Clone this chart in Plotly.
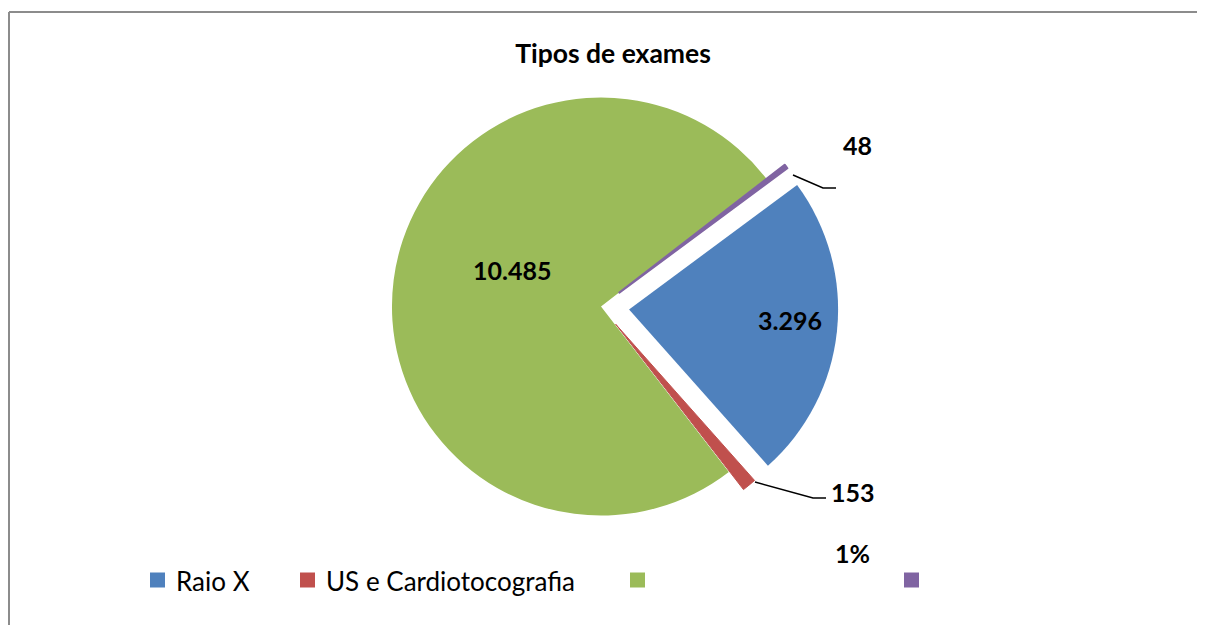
import plotly.graph_objects as go

# ---- data ----
legend_names = ["Raio X", "US e Cardiotocografia", "", ""]
values = [3296, 153, 10485, 48]
colors = ["#4F81BD", "#C0504D", "#9BBB59", "#8064A2"]
title_text = "Tipos de exames"

# page body has an 8px margin, so the figure is shifted by (8, 8)
OFF = 8
W, H = 1205 - OFF, 625 - OFF


def X(px):
    return (px - OFF) / W


def Y(py):
    return 1 - (py - OFF) / H


def fmt(v):
    return f"{v:,}".replace(",", ".")


total = sum(values)
pct_red = f"{round(values[1] / total * 100)}%"

fig = go.Figure()
fig.add_trace(go.Pie(
    values=values,
    marker=dict(colors=colors, line=dict(color=colors, width=[0, 1, 0, 2])),
    sort=False,
    direction="clockwise",
    rotation=53.5,
    pull=[0.135, 0.11, 0, 0.11],
    textinfo="none",
    hoverinfo="value+percent",
    domain=dict(x=[X(351), X(851)], y=[Y(543.75), Y(69.25)]),
    showlegend=False,
))

lab_font = dict(family="Lato", size=25, color="#000000")
annotations = [
    dict(x=X(512), y=Y(270), text=f"<b>{fmt(values[2])}</b>"),
    dict(x=X(790), y=Y(320), text=f"<b>{fmt(values[0])}</b>"),
    dict(x=X(857), y=Y(145), text=f"<b>{fmt(values[3])}</b>"),
    dict(x=X(853), y=Y(492), text=f"<b>{fmt(values[1])}</b>"),
    dict(x=X(852), y=Y(553), text=f"<b>{pct_red}</b>"),
]
for a in annotations:
    a.update(xref="paper", yref="paper", showarrow=False, font=lab_font,
             xanchor="center", yanchor="middle")

shapes = []
# leader lines
for pts in ([(793, 175), (823, 188), (836, 188)],
            [(755, 482), (813, 498), (826, 498)]):
    path = "M " + " L ".join(f"{X(a)},{Y(b)}" for a, b in pts)
    shapes.append(dict(type="path", xref="paper", yref="paper", path=path,
                       line=dict(color="#000000", width=1.5)))

# chart border (top and left visible)
shapes.append(dict(type="line", xref="paper", yref="paper",
                   x0=X(9), y0=Y(12), x1=1, y1=Y(12),
                   line=dict(color="#8C8C8C", width=2)))
shapes.append(dict(type="line", xref="paper", yref="paper",
                   x0=X(9), y0=Y(12), x1=X(9), y1=0,
                   line=dict(color="#8C8C8C", width=2)))

# legend (custom, to match spacing)
leg_x = [150, 300, 630, 904]
leg_y = 580
for name, col, lx in zip(legend_names, colors, leg_x):
    shapes.append(dict(type="rect", xref="paper", yref="paper",
                       x0=X(lx), x1=X(lx + 15), y0=Y(leg_y + 7.5), y1=Y(leg_y - 7.5),
                       fillcolor=col, line=dict(width=0)))
    if name:
        annotations.append(dict(x=X(lx + 24), y=Y(leg_y + 1), xref="paper", yref="paper",
                                text=name, showarrow=False, xanchor="left",
                                yanchor="middle",
                                font=dict(family="Lato", size=26, color="#000000")))

fig.update_layout(
    width=W, height=H,
    margin=dict(l=0, r=0, t=0, b=0),
    paper_bgcolor="#FFFFFF",
    plot_bgcolor="#FFFFFF",
    title=dict(text=f"<b>{title_text}</b>", x=X(613), y=Y(54),
               xanchor="center", yanchor="middle",
               font=dict(family="Lato", size=26.5, color="#000000")),
    annotations=annotations,
    shapes=shapes,
    showlegend=False,
)

fig.write_html("out.html")
